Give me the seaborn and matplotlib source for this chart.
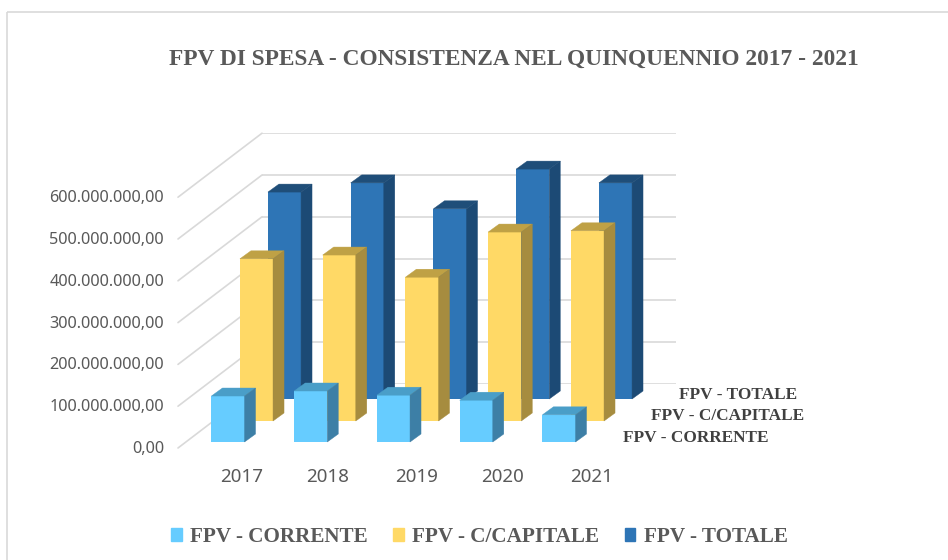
import matplotlib
matplotlib.use("Agg")
import matplotlib.pyplot as plt
from matplotlib.lines import Line2D
from matplotlib.patches import Patch, Polygon, Rectangle
import seaborn as sns

years = ["2017", "2018", "2019", "2020", "2021"]
fpv_corrente = [110e6, 122e6, 112e6, 100e6, 65e6]
fpv_capitale = [388e6, 397e6, 344e6, 452e6, 455e6]
fpv_totale = [495e6, 517e6, 455e6, 550e6, 517e6]
y_ticks = [0, 100e6, 200e6, 300e6, 400e6, 500e6, 600e6]
name_corrente = "FPV - CORRENTE"
name_capitale = "FPV - C/CAPITALE"
name_totale = "FPV - TOTALE"

W, H = 948, 560
SERIF = ["Liberation Serif", "DejaVu Serif"]
GRID = "#d9d9d9"
TXT = "#595959"

sns.set_style("white")
plt.rcParams["font.family"] = ["Noto Sans", "DejaVu Sans"]

fig = plt.figure(figsize=(W / 100, H / 100), dpi=100)


# helper: axes placed with pixel coords of the original picture
def px_axes(left, bottom, width, height, z):
    ax = fig.add_axes([left / W, 1 - bottom / H, width / W, height / H], zorder=z)
    ax.patch.set_alpha(0)
    sns.despine(ax=ax, left=True, bottom=True)
    return ax


def fmt(v):
    return f"{v:,.2f}".replace(",", "#").replace(".", ",").replace("#", ".")


# canvas for frame and side wall
canvas = fig.add_axes([0, 0, 1, 1], zorder=0)
canvas.set_xlim(0, W)
canvas.set_ylim(H, 0)
canvas.axis("off")
canvas.add_patch(Rectangle((7, 12), 960, 600, fill=False, ec=GRID, lw=1.2))

PLOT_W = 413.75
PLOT_H = 250.8
px_per_val = PLOT_H / 600e6
for v in y_ticks:
    dy = v * px_per_val
    canvas.add_line(Line2D([178, 262], [448 - dy, 384 - dy], color=GRID, lw=1.2))

# back wall gridlines
back = px_axes(262, 384, PLOT_W, PLOT_H, 1)
back.set_ylim(0, 600e6)
back.set_xticks([])
back.set_yticks(y_ticks)
back.set_yticklabels([])
back.tick_params(length=0)
back.grid(axis="y", color=GRID, lw=1.2)

# value labels sit on the front edge of the wall
labels = px_axes(178, 447, PLOT_W, PLOT_H, 1)
labels.set_ylim(0, 600e6)
labels.set_xticks([])
labels.set_yticks(y_ticks)
labels.set_yticklabels([fmt(v) for v in y_ticks], fontsize=11.7, color=TXT)
labels.tick_params(axis="y", length=0, pad=10)

series = [
    (fpv_totale, 243.1, 399, 2, "#2e75b6", "#1f4e79", "#1c4a75"),
    (fpv_capitale, 215.1, 421, 3, "#ffd966", "#bfa145", "#a68c3f"),
    (fpv_corrente, 186.6, 442, 4, "#66ccff", "#4a9ec8", "#3d7fa6"),
]
depth_x = 11 / PLOT_W * 5
depth_y = 8 / px_per_val

for values, left, base, z, front, top, side in series:
    ax = px_axes(left, base, PLOT_W, PLOT_H, z)
    sns.barplot(x=years, y=values, color=front, saturation=1, width=0.4, linewidth=0, ax=ax)
    ax.set_ylim(0, 600e6)
    ax.set_xlim(-0.5, 4.5)
    ax.set_yticks([])
    ax.set_xticks([])
    ax.set_xlabel("")
    ax.set_ylabel("")
    # extruded faces taken from the seaborn bars
    for bar in list(ax.patches):
        x0, w, h = bar.get_x(), bar.get_width(), bar.get_height()
        x1 = x0 + w
        ax.add_patch(Polygon([(x0, h), (x1, h), (x1 + depth_x, h + depth_y), (x0 + depth_x, h + depth_y)],
                             fc=top, ec=top, lw=0.3, clip_on=False))
        ax.add_patch(Polygon([(x1, 0), (x1 + depth_x, depth_y), (x1 + depth_x, h + depth_y), (x1, h)],
                             fc=side, ec=side, lw=0.3, clip_on=False))

# year labels drift a bit to the right of the bars in the original
year_pos = [242, 328, 417, 503, 592]
for year, xp in zip(years, year_pos):
    canvas.text(xp, 477, year, ha="center", va="center", fontsize=13.5, color=TXT)

# series names on the depth axis
text_ax = fig.add_axes([0, 0, 1, 1], zorder=6)
text_ax.set_xlim(0, W)
text_ax.set_ylim(H, 0)
text_ax.axis("off")
for name, xp, yp in [(name_totale, 738.5, 395), (name_capitale, 728, 416), (name_corrente, 696, 438)]:
    text_ax.text(xp, yp, name, ha="center", va="center", fontsize=12.4, fontweight="bold",
                 family=SERIF, color="#404040")

fig.text(514 / W, 1 - 59 / H, "FPV DI SPESA - CONSISTENZA NEL QUINQUENNIO 2017 - 2021",
         ha="center", va="center", fontsize=16.8, fontweight="bold", family=SERIF, color=TXT)

handles = [Patch(color="#66ccff", label=name_corrente),
           Patch(color="#ffd966", label=name_capitale),
           Patch(color="#2e75b6", label=name_totale)]
fig.legend(handles=handles, loc="center", bbox_to_anchor=(479.5 / W, 1 - 537 / H), ncol=3, frameon=False,
           prop={"family": SERIF, "weight": "bold", "size": 15.2}, labelcolor=TXT,
           handlelength=0.5, handleheight=0.5, handletextpad=0.4, columnspacing=1.2)

fig.savefig("out.png", dpi=100)
